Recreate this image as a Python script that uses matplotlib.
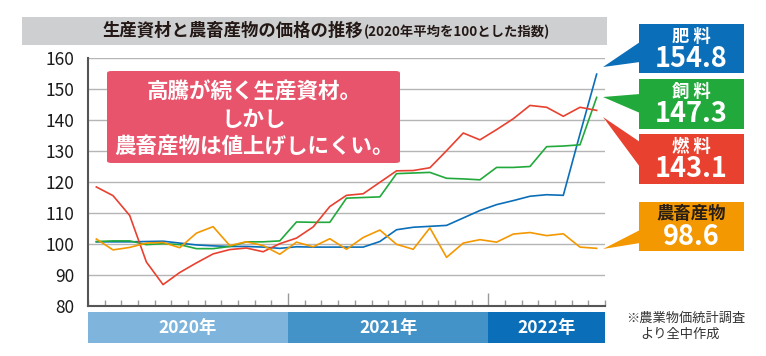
import matplotlib
matplotlib.use("Agg")
import matplotlib.pyplot as plt
from matplotlib.patches import Rectangle, Polygon, FancyBboxPatch
from matplotlib.transforms import blended_transform_factory

plt.rcParams['font.family'] = ['Noto Sans CJK JP', 'DejaVu Sans']

# monthly index, Jan 2020 - Jul 2022 (2020 average = 100)
fertilizer = [100.7, 100.7, 100.7, 100.8, 100.9, 100.3, 99.7, 99.4, 99.2, 99.2, 99.0, 98.6,
              99.1, 99.0, 99.0, 99.0, 99.0, 100.8, 104.6, 105.4, 105.7, 106.0, 108.4, 110.8,
              112.7, 114.0, 115.4, 115.9, 115.7, 135.5, 154.8]
feed = [100.8, 101.0, 101.0, 99.8, 100.1, 99.8, 98.5, 98.5, 99.2, 100.7, 100.7, 101.0,
        107.1, 107.0, 107.0, 114.8, 115.0, 115.2, 122.7, 122.9, 123.1, 121.2, 121.0, 120.7,
        124.7, 124.7, 125.0, 131.4, 131.6, 132.0, 147.3]
fuel = [118.4, 115.6, 109.2, 94.2, 86.9, 90.8, 93.9, 96.8, 98.2, 98.7, 97.5, 100.1,
        101.9, 105.5, 112.1, 115.7, 116.2, 119.9, 123.6, 123.7, 124.6, 130.1, 135.8, 133.6,
        136.9, 140.4, 144.7, 144.1, 141.2, 144.1, 143.1]
farm = [101.6, 98.1, 98.9, 100.3, 100.5, 98.8, 103.5, 105.6, 99.5, 100.7, 99.5, 96.7,
        100.6, 99.1, 101.7, 98.3, 102.1, 104.5, 99.9, 98.3, 105.2, 95.7, 100.3, 101.4,
        100.6, 103.2, 103.7, 102.7, 103.3, 99.0, 98.6]

years = ['2020年', '2021年', '2022年']
year_months = [12, 12, 7]
year_colors = ['#7fb5dc', '#4393c9', '#0a6eb8']

series_names = ['肥 料', '飼 料', '燃 料', '農畜産物']
series_colors = ['#0a6eb8', '#22a93b', '#e8412f', '#f39800']
series_data = [fertilizer, feed, fuel, farm]

W, H = 766, 356
fig = plt.figure(figsize=(W / 100, H / 100), dpi=100)


def fx(x):
    return x / W


def fy(y):
    return 1 - y / H


ax = fig.add_axes([fx(88), fy(306), (605 - 88) / W, (306 - 58) / H])
n = len(fertilizer)
xs = [i + 0.5 for i in range(n)]
for vals, c in zip(series_data, series_colors):
    ax.plot(xs, vals, color=c, lw=1.2, zorder=3)

ax.set_xlim(0, n)
ax.set_ylim(80, 160)
ax.set_yticks(range(80, 161, 10))
ax.tick_params(axis='y', length=0, labelsize=12.5, labelcolor='#1a1a1a', pad=10)
for v in range(90, 161, 10):
    ax.axhline(v, color='#b5b5b5', lw=1, zorder=1)

# month ticks and year ticks
bounds = [0]
for m in year_months:
    bounds.append(bounds[-1] + m)
ax.set_xticks(bounds[1:-1])
ax.set_xticks(range(n + 1), minor=True)
ax.tick_params(axis='x', which='major', direction='in', length=9.5, color='#999999',
               width=1, labelbottom=False)
ax.tick_params(axis='x', which='minor', direction='in', length=4.5, color='#999999',
               width=1)
for s in ['top', 'right']:
    ax.spines[s].set_visible(False)
for s in ['left', 'bottom']:
    ax.spines[s].set_color('#555555')
    ax.spines[s].set_linewidth(1.5)

# year band under the axis
tr = blended_transform_factory(ax.transData, ax.transAxes)
for lab, c, a, b in zip(years, year_colors, bounds[:-1], bounds[1:]):
    ax.add_patch(Rectangle((a, -0.148), b - a, 0.125, transform=tr, color=c,
                           clip_on=False, lw=0))
    ax.text((a + b) / 2, -0.087, lab, transform=tr, ha='center', va='center',
            color='white', fontsize=12.5, fontweight='bold')

# title bar
fig.patches.append(Rectangle((fx(22), fy(45)), (607 - 22) / W, 28 / H,
                             transform=fig.transFigure, color='#cdcfd1', lw=0))
fig.text(fx(102), fy(31), '生産資材と農畜産物の価格の推移', fontsize=12.5,
         fontweight='bold', color='#231815', va='center', ha='left')
fig.text(fx(364), fy(32), '(2020年平均を100とした指数)', fontsize=9.6,
         fontweight='bold', color='#231815', va='center', ha='left')

# pink message box
fig.patches.append(FancyBboxPatch((fx(107), fy(163)), (400 - 107) / W, (163 - 71) / H,
                                  boxstyle='round,pad=0,rounding_size=0.006',
                                  transform=fig.transFigure, color='#e8546c', lw=0,
                                  zorder=5))
for txt, y in zip(['高騰が続く生産資材。', 'しかし', '農畜産物は値上げしにくい。'],
                  [92, 119, 146]):
    fig.text(fx(254), fy(y), txt, fontsize=15.5, fontweight='bold', color='white',
             ha='center', va='center', zorder=6)

# callouts on the right
boxes = [(24, 73), (79, 129), (134, 184), (202, 251)]
tails = [((603, 67), 42, 62), ((603, 97), 94, 113), ((603, 117), 142, 167),
         ((603, 249), 230, 243)]
for name, vals, c, (y0, y1), (tip, b0, b1) in zip(series_names, series_data,
                                                  series_colors, boxes, tails):
    fig.patches.append(Rectangle((fx(639), fy(y1)), (744 - 639) / W, (y1 - y0) / H,
                                 transform=fig.transFigure, color=c, lw=0))
    fig.patches.append(Polygon([(fx(tip[0]), fy(tip[1])), (fx(640), fy(b0)),
                                (fx(640), fy(b1))], closed=True,
                               transform=fig.transFigure, color=c, lw=0))
    name_color = '#2a1f14' if name == '農畜産物' else 'white'
    fig.text(fx(691.5), fy(y0 + 12.5), name, fontsize=12.5, fontweight='bold',
             color=name_color, ha='center', va='center')
    fig.text(fx(691.5), fy(y0 + 35), f'{vals[-1]:.1f}', fontsize=19.5, fontweight='bold',
             color='white', ha='center', va='center')

# source note
fig.text(fx(626), fy(318), '※農業物価統計調査', fontsize=9.5, color='#333333',
         ha='left', va='center')
fig.text(fx(640), fy(334), 'より全中作成', fontsize=9.5, color='#333333',
         ha='left', va='center')

fig.savefig('out.png', dpi=100)
